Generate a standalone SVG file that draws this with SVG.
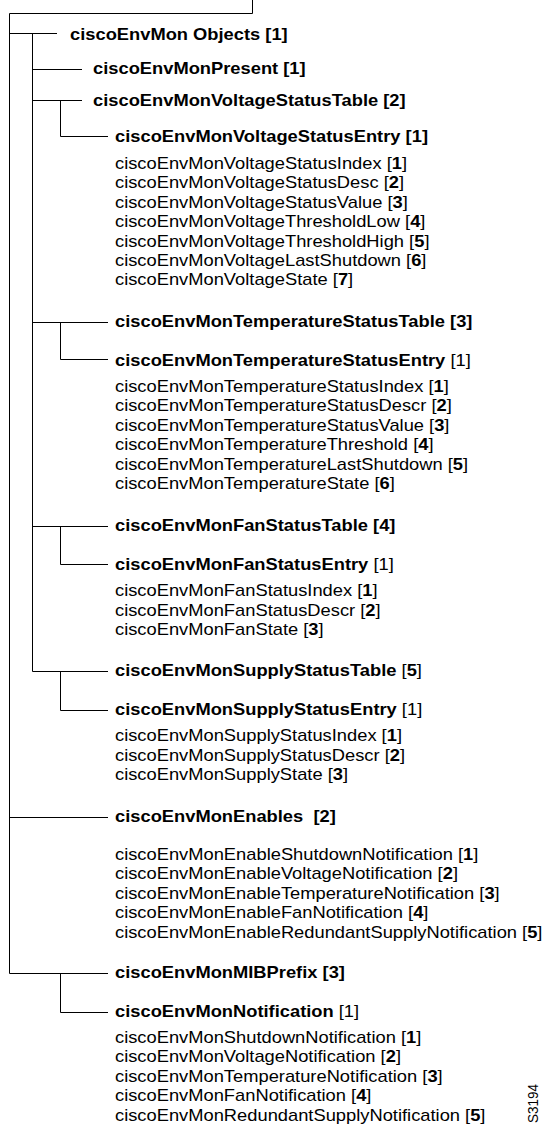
<svg xmlns="http://www.w3.org/2000/svg" width="550" height="1129" viewBox="0 0 550 1129">
<style>
text{font-family:"Liberation Sans",Arial,Helvetica,sans-serif;font-size:16px;fill:#000}
.b{font-weight:bold}
.k{font-weight:bold}
.conn path{fill:none;stroke:#000;stroke-width:1}
</style>
<rect width="550" height="1129" fill="#fff"/>
<g class="conn" id="connectors">
<path d="M252.5 0V13.5H9.5V973.5H108"/>
<path d="M9.5 33.5H57"/>
<path d="M32.5 33.5V671.5H108"/>
<path d="M32.5 69.5H82"/>
<path d="M32.5 100.5H82"/>
<path d="M60.5 100.5V136.5H108"/>
<path d="M32.5 322.5H108"/>
<path d="M60.5 322.5V359.5H108"/>
<path d="M32.5 526.5H108"/>
<path d="M60.5 526.5V564.5H108"/>
<path d="M60.5 671.5V710.5H108"/>
<path d="M9.5 817.5H108"/>
<path d="M60.5 973.5V1012.5H108"/>
</g>
<g id="objects" transform="translate(70,0) scale(1.145,1)"><text class="b" y="40">ciscoEnvMon Objects [1]</text></g>
<g id="present" transform="translate(93,0) scale(1.145,1)"><text class="b" y="74">ciscoEnvMonPresent [1]</text></g>
<g id="voltageTable" transform="translate(93,0) scale(1.145,1)"><text class="b" y="106">ciscoEnvMonVoltageStatusTable [2]</text></g>
<g id="voltageEntry" transform="translate(115,0) scale(1.145,1)"><text class="b" y="142.5">ciscoEnvMonVoltageStatusEntry [1]</text></g>
<g id="voltageFields" transform="translate(115,0) scale(1.145,1)">
<text y="169">ciscoEnvMonVoltageStatusIndex [<tspan class="k">1</tspan>]</text>
<text y="188.4">ciscoEnvMonVoltageStatusDesc [<tspan class="k">2</tspan>]</text>
<text y="207.8">ciscoEnvMonVoltageStatusValue [<tspan class="k">3</tspan>]</text>
<text y="227.2">ciscoEnvMonVoltageThresholdLow [<tspan class="k">4</tspan>]</text>
<text y="246.6">ciscoEnvMonVoltageThresholdHigh [<tspan class="k">5</tspan>]</text>
<text y="266">ciscoEnvMonVoltageLastShutdown [<tspan class="k">6</tspan>]</text>
<text y="285.4">ciscoEnvMonVoltageState [<tspan class="k">7</tspan>]</text>
</g>
<g id="temperatureTable" transform="translate(115,0) scale(1.145,1)"><text class="b" y="327">ciscoEnvMonTemperatureStatusTable [3]</text></g>
<g id="temperatureEntry" transform="translate(115,0) scale(1.145,1)"><text y="366"><tspan class="b">ciscoEnvMonTemperatureStatusEntry</tspan> [1]</text></g>
<g id="temperatureFields" transform="translate(115,0) scale(1.145,1)">
<text y="392">ciscoEnvMonTemperatureStatusIndex [<tspan class="k">1</tspan>]</text>
<text y="411.4">ciscoEnvMonTemperatureStatusDescr [<tspan class="k">2</tspan>]</text>
<text y="430.8">ciscoEnvMonTemperatureStatusValue [<tspan class="k">3</tspan>]</text>
<text y="450.2">ciscoEnvMonTemperatureThreshold [<tspan class="k">4</tspan>]</text>
<text y="469.6">ciscoEnvMonTemperatureLastShutdown [<tspan class="k">5</tspan>]</text>
<text y="489">ciscoEnvMonTemperatureState [<tspan class="k">6</tspan>]</text>
</g>
<g id="fanTable" transform="translate(115,0) scale(1.145,1)"><text class="b" y="531">ciscoEnvMonFanStatusTable [4]</text></g>
<g id="fanEntry" transform="translate(115,0) scale(1.145,1)"><text y="570"><tspan class="b">ciscoEnvMonFanStatusEntry</tspan> [1]</text></g>
<g id="fanFields" transform="translate(115,0) scale(1.145,1)">
<text y="596.5">ciscoEnvMonFanStatusIndex [<tspan class="k">1</tspan>]</text>
<text y="615.9">ciscoEnvMonFanStatusDescr [<tspan class="k">2</tspan>]</text>
<text y="635.3">ciscoEnvMonFanState [<tspan class="k">3</tspan>]</text>
</g>
<g id="supplyTable" transform="translate(115,0) scale(1.145,1)"><text y="676"><tspan class="b">ciscoEnvMonSupplyStatusTable</tspan> [<tspan class="k">5</tspan>]</text></g>
<g id="supplyEntry" transform="translate(115,0) scale(1.145,1)"><text y="715"><tspan class="b">ciscoEnvMonSupplyStatusEntry</tspan> [1]</text></g>
<g id="supplyFields" transform="translate(115,0) scale(1.145,1)">
<text y="741.5">ciscoEnvMonSupplyStatusIndex [<tspan class="k">1</tspan>]</text>
<text y="760.9">ciscoEnvMonSupplyStatusDescr [<tspan class="k">2</tspan>]</text>
<text y="780.3">ciscoEnvMonSupplyState [<tspan class="k">3</tspan>]</text>
</g>
<g id="enables" transform="translate(115,0) scale(1.145,1)"><text class="b" y="822" xml:space="preserve">ciscoEnvMonEnables  [2]</text></g>
<g id="enableFields" transform="translate(115,0) scale(1.145,1)">
<text y="860">ciscoEnvMonEnableShutdownNotification [<tspan class="k">1</tspan>]</text>
<text y="879.4">ciscoEnvMonEnableVoltageNotification [<tspan class="k">2</tspan>]</text>
<text y="898.8">ciscoEnvMonEnableTemperatureNotification [<tspan class="k">3</tspan>]</text>
<text y="918.2">ciscoEnvMonEnableFanNotification [<tspan class="k">4</tspan>]</text>
<text y="937.6">ciscoEnvMonEnableRedundantSupplyNotification [<tspan class="k">5</tspan>]</text>
</g>
<g id="mibPrefix" transform="translate(115,0) scale(1.145,1)"><text class="b" y="978">ciscoEnvMonMIBPrefix [3]</text></g>
<g id="notification" transform="translate(115,0) scale(1.145,1)"><text y="1017"><tspan class="b">ciscoEnvMonNotification</tspan> [1]</text></g>
<g id="notificationFields" transform="translate(115,0) scale(1.145,1)">
<text y="1043">ciscoEnvMonShutdownNotification [<tspan class="k">1</tspan>]</text>
<text y="1062.4">ciscoEnvMonVoltageNotification [<tspan class="k">2</tspan>]</text>
<text y="1081.8">ciscoEnvMonTemperatureNotification [<tspan class="k">3</tspan>]</text>
<text y="1101.2">ciscoEnvMonFanNotification [<tspan class="k">4</tspan>]</text>
<text y="1120.6">ciscoEnvMonRedundantSupplyNotification [<tspan class="k">5</tspan>]</text>
</g>
<g id="figId" transform="translate(538,1123) scale(1.145,1) rotate(-90)"><text style="font-size:13.5px">S3194</text></g>
</svg>
